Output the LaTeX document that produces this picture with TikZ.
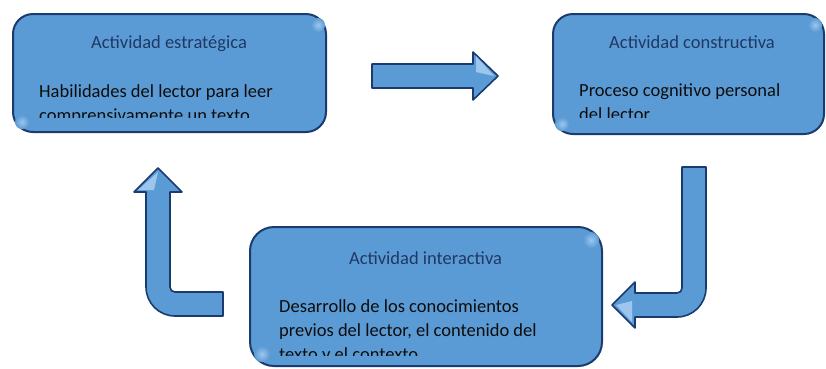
\documentclass[tikz,border=0pt]{standalone}
\usepackage{fontspec}
\setmainfont{Carlito}
\definecolor{boxfill}{HTML}{5B9BD5}
\definecolor{boxline}{HTML}{1B3A6E}
\definecolor{titlecol}{HTML}{1F3864}
\definecolor{bodycol}{HTML}{0D0D0D}
\definecolor{glint}{HTML}{9CC6EE}
\begin{document}
\begin{tikzpicture}[x=1pt,y=-1pt,
  box/.style={draw=boxline, fill=boxfill, line width=2pt, rounded corners=20pt, inner sep=0pt},
  blockarrow/.style={draw=boxline, fill=boxfill, line width=1.6pt, line join=round},
  titletext/.style={font=\fontsize{18.5}{22}\selectfont, text=titlecol, anchor=base, inner sep=0pt},
  bodytext/.style={font=\fontsize{18.5}{24}\selectfont, text=bodycol, anchor=base west, inner sep=0pt},
  highlight/.style={inner color=glint, outer color=boxfill}]
\useasboundingbox (0,0) rectangle (826,368);

% boxes
\node[box, minimum width=313pt, minimum height=118pt] (b1) at (169.5,73) {};
\node[box, minimum width=271pt, minimum height=120pt] (b2) at (688.5,74) {};
\node[box, minimum width=352pt, minimum height=139pt, rounded corners=24pt] (b3) at (426,296.5) {};

% glossy corner highlights
\shade[highlight] (318,25) circle (7pt);
\shade[highlight] (22,122) circle (7pt);
\shade[highlight] (815,25) circle (7pt);
\shade[highlight] (562,124) circle (7pt);
\shade[highlight] (591,240) circle (8pt);
\shade[highlight] (262,354) circle (8pt);

% box 1 text
\node[titletext] (t1) at (169,48.5) {Actividad estratégica};
\begin{scope}
  \clip (14,14) rectangle (326,117);
  \node[bodytext] (l11) at (39,97) {Habilidades del lector para leer};
  \node[bodytext] (l12) at (39,121) {comprensivamente un texto};
\end{scope}

% box 2 text
\node[titletext] (t2) at (692,48.5) {Actividad constructiva};
\begin{scope}
  \clip (554,14) rectangle (823,117);
  \node[bodytext] (l21) at (579,96) {Proceso cognitivo personal};
  \node[bodytext] (l22) at (579,120) {del lector};
\end{scope}

% box 3 text
\node[titletext] (t3) at (425.5,264) {Actividad interactiva};
\begin{scope}
  \clip (251,228) rectangle (601,355);
  \node[bodytext] (l31) at (279,312) {Desarrollo de los conocimientos};
  \node[bodytext] (l32) at (279,336) {previos del lector, el contenido del};
  \node[bodytext] (l33) at (279,360) {texto y el contexto};
\end{scope}

% right arrow
\draw[blockarrow] (372,64) -- (473,64) -- (473,52) -- (498,76) -- (473,100) -- (473,88) -- (372,88) -- cycle;

% down-left bent arrow
\draw[blockarrow] (682,167) -- (706,167) -- (706,288)
  .. controls (706,304) and (693,317) .. (677,317) -- (635,317) -- (635,328)
  -- (612,305) -- (635,282) -- (635,293) -- (677,293)
  .. controls (680,293) and (682,291) .. (682,288) -- cycle;

% left-up bent arrow
\draw[blockarrow] (223,292) -- (175,292)
  .. controls (172,292) and (170,290) .. (170,287) -- (170,192) -- (182,192)
  -- (158,168) -- (134,192) -- (146,192) -- (146,287)
  .. controls (146,303) and (159,316) .. (175,316) -- (223,316) -- cycle;

% facets on arrow heads
\fill[glint] (476,56) -- (494,76) -- (476,72) -- cycle;
\fill[glint] (632,301) -- (616,305) -- (632,322) -- cycle;
\fill[glint] (138,190) -- (158,172) -- (154,190) -- cycle;
\end{tikzpicture}
\end{document}
